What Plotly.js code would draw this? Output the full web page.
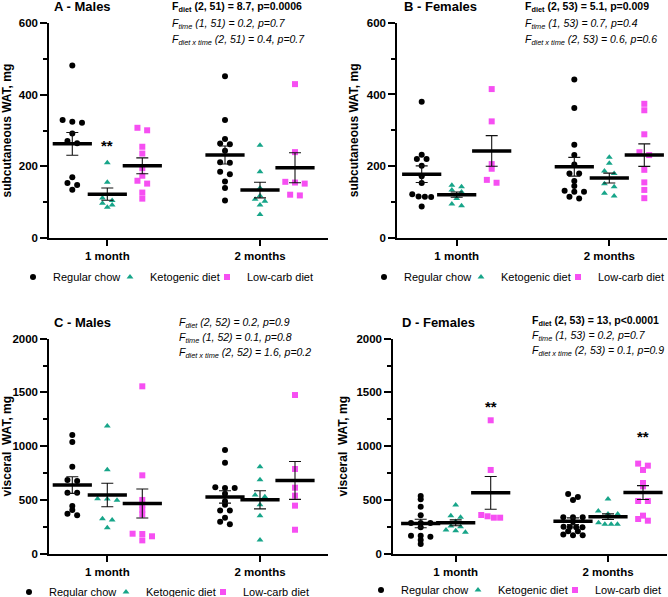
<!DOCTYPE html>
<html><head><meta charset="utf-8">
<script src="https://cdn.plot.ly/plotly-3.0.1.min.js"></script>
<style>html,body{margin:0;padding:0;background:#fff}#chart{width:668px;height:597px}</style>
</head><body><div id="chart"></div><script>
const W = 668, H = 597;
const timepoints = ['1 month', '2 months'];
const diets = ['Regular chow', 'Ketogenic diet', 'Low-carb diet'];
const dietColors = ['#000000', '#17a589', '#f64ff2'];
const dietSymbols = ['circle', 'triangle-up', 'square'];

// A - Males, subcutaneous WAT (mg)
const aChow1m = [482, 330, 325, 322, 292, 271, 265, 170, 154, 148, 135];
const aKeto1m = [210, 156, 112, 105, 97, 92, 86];
const aLowc1m = [308, 301, 255, 236, 195, 174, 160, 152, 127, 110];
const aChow2m = [452, 330, 277, 264, 262, 244, 212, 210, 185, 178, 158, 140, 105];
const aKeto2m = [259, 185, 140, 118, 108, 103, 92, 66];
const aLowc2m = [430, 240, 157, 155, 152, 121, 119];

// B - Females, subcutaneous WAT (mg)
const bChow1m = [380, 232, 220, 220, 201, 172, 153, 122, 116, 115, 114, 88];
const bKeto1m = [147, 143, 134, 128, 120, 110, 95, 90];
const bLowc1m = [415, 325, 206, 193, 162, 154];
const bChow2m = [442, 362, 260, 231, 205, 180, 180, 159, 145, 132, 129, 129, 115, 110];
const bKeto2m = [225, 208, 187, 180, 151, 143, 125, 117];
const bLowc2m = [374, 356, 289, 239, 231, 190, 155, 134, 111];

// C - Males, visceral WAT (mg)
const cChow1m = [1104, 1039, 809, 686, 676, 567, 567, 443, 406, 372, 357];
const cKeto1m = [1188, 782, 512, 509, 497, 326, 313, 242];
const cLowc1m = [1557, 729, 500, 455, 410, 365, 186, 183, 162, 124];
const cChow2m = [965, 847, 617, 611, 611, 558, 487, 456, 403, 403, 335, 298, 273];
const cKeto2m = [809, 689, 546, 530, 455, 354, 127];
const cLowc2m = [1476, 788, 614, 540, 447, 223];

// D - Females, visceral WAT (mg)
const dChow1m = [537, 506, 437, 357, 285, 285, 285, 245, 168, 168, 158, 127, 90];
const dKeto1m = [453, 354, 338, 300, 258, 251, 220, 214, 199];
const dLowc1m = [1241, 779, 360, 348, 335, 335];
const dChow2m = [555, 528, 500, 338, 338, 338, 300, 251, 248, 245, 245, 210, 210, 178, 172, 172];
const dKeto2m = [509, 397, 369, 369, 344, 289, 273, 273, 273];
const dLowc2m = [838, 819, 779, 658, 627, 490, 490, 354, 323, 307];

// Statistics text
const statsA = ['<b>F<sub>diet</sub> (2, 51) = 8.7, p=0.0006</b>', '<i>F<sub>time</sub> (1, 51) = 0.2, p=0.7</i>', '<i>F<sub>diet x time</sub> (2, 51) = 0.4, p=0.7</i>'];
const statsB = ['<b>F<sub>diet</sub> (2, 53) = 5.1, p=0.009</b>', '<i>F<sub>time</sub> (1, 53) = 0.7, p=0.4</i>', '<i>F<sub>diet x time</sub> (2, 53) = 0.6, p=0.6</i>'];
const statsC = ['<i>F<sub>diet</sub> (2, 52) = 0.2, p=0.9</i>', '<i>F<sub>time</sub> (1, 52) = 0.1, p=0.8</i>', '<i>F<sub>diet x time</sub> (2, 52) = 1.6, p=0.2</i>'];
const statsD = ['<b>F<sub>diet</sub> (2, 53) = 13, p&lt;0.0001</b>', '<i>F<sub>time</sub> (1, 53) = 0.2, p=0.7</i>', '<i>F<sub>diet x time</sub> (2, 53) = 0.1, p=0.9</i>'];

const FONT = 'Liberation Sans, Arial, sans-serif';

const panels = [
  {title: 'A - Males', ytitle: 'subcutaneous WAT, mg', data: [[aChow1m, aKeto1m, aLowc1m], [aChow2m, aKeto2m, aLowc2m]],
   yr: [0, 600], dtick: 200, minor: 100, box: {l: 49.3, r: 328, t: 23.3, b: 238}, c: [107.3, 260],
   stats: statsA, statsX: 170, statsY: [7, 24, 40], titleXY: [51.7, 6.7],
   stars: [{t: 0, d: 1, y: 267}], legXY: [13, 277]},
  {title: 'B - Females', ytitle: 'subcutaneous WAT, mg', data: [[bChow1m, bKeto1m, bLowc1m], [bChow2m, bKeto2m, bLowc2m]],
   yr: [0, 600], dtick: 200, minor: 100, box: {l: 397.3, r: 667, t: 22.7, b: 238}, c: [456.7, 609.3],
   stats: statsB, statsX: 523, statsY: [7, 24, 40], titleXY: [401.7, 6.7],
   stars: [], legXY: [364, 277]},
  {title: 'C - Males', ytitle: 'visceral\u00a0 WAT, mg', data: [[cChow1m, cKeto1m, cLowc1m], [cChow2m, cKeto2m, cLowc2m]],
   yr: [0, 2000], dtick: 500, minor: 250, box: {l: 49.3, r: 328, t: 338.7, b: 553.7}, c: [107.3, 260],
   stats: statsC, statsX: 176.7, statsY: [323, 338, 353], titleXY: [51.7, 322.7],
   stars: [], legXY: [9, 592]},
  {title: 'D - Females', ytitle: 'visceral\u00a0 WAT, mg', data: [[dChow1m, dKeto1m, dLowc1m], [dChow2m, dKeto2m, dLowc2m]],
   yr: [0, 2000], dtick: 500, minor: 250, box: {l: 393.3, r: 667, t: 338.7, b: 553.7}, c: [455.7, 608],
   stats: statsD, statsX: 530, statsY: [321, 336, 351], titleXY: [399.7, 322.7],
   stars: [{t: 0, d: 2, y: 1400}, {t: 1, d: 2, y: 1116}], legXY: [361, 590]}
];

const legendWidths = [52, 52, 80];

function swarm(values, center, yPerPx, xPerPx) {
  const idx = values.map((v, i) => i).sort((a, b) => values[b] - values[a]);
  const thr = 3.2 * yPerPx;
  const clusters = [];
  let cur = null;
  idx.forEach(i => {
    if (cur && cur.length < 4 && values[cur[0]] - values[i] <= thr) cur.push(i);
    else { cur = [i]; clusters.push(cur); }
  });
  const xs = new Array(values.length);
  clusters.forEach(cl => {
    const n = cl.length;
    const d = (n >= 4 ? 6.3 : 9.7) * xPerPx;
    cl.forEach((i, k) => { xs[i] = center + (k - (n - 1) / 2) * d; });
  });
  return xs;
}
function mean(a) { return a.reduce((s, v) => s + v, 0) / a.length; }
function sem(a) { const m = mean(a); const v = a.reduce((s, x) => s + (x - m) * (x - m), 0) / (a.length - 1); return Math.sqrt(v / a.length); }

const traces = [];
const layout = {
  width: W, height: H, margin: {l: 0, r: 0, t: 0, b: 0, autoexpand: false},
  paper_bgcolor: '#fff', plot_bgcolor: '#fff', showlegend: true,
  font: {family: FONT, color: '#000', size: 12},
  annotations: []
};

panels.forEach((p, pi) => {
  const sfx = pi === 0 ? '' : String(pi + 1);
  const xa = 'x' + sfx, ya = 'y' + sfx;
  const legName = pi === 0 ? 'legend' : 'legend' + (pi + 1);
  const pxPerX = p.c[1] - p.c[0];
  const xPerPx = 1 / pxPerX;
  const yPerPx = (p.yr[1] - p.yr[0]) / (p.box.b - p.box.t);
  const dietOff = 35 * xPerPx;

  diets.forEach((dn, di) => {
    let xs = [], ys = [];
    timepoints.forEach((tp, ti) => {
      const vals = p.data[ti][di];
      const center = (ti + 1) + (di - 1) * dietOff;
      xs = xs.concat(swarm(vals, center, yPerPx, xPerPx));
      ys = ys.concat(vals);
    });
    traces.push({
      type: 'scatter', mode: 'markers', name: dn, x: xs, y: ys, xaxis: xa, yaxis: ya,
      legend: legName, legendwidth: legendWidths[di], cliponaxis: false,
      marker: {symbol: dietSymbols[di], color: dietColors[di], size: 6, line: {width: 0}},
      hoverinfo: 'y'
    });
  });
  const mx = [], my = [], me = [];
  timepoints.forEach((tp, ti) => diets.forEach((dn, di) => {
    const vals = p.data[ti][di];
    mx.push((ti + 1) + (di - 1) * dietOff);
    my.push(mean(vals));
    me.push(sem(vals));
  }));
  traces.push({
    type: 'scatter', mode: 'markers', x: mx, y: my, xaxis: xa, yaxis: ya, showlegend: false, cliponaxis: false,
    marker: {symbol: 'line-ew', size: 28, color: '#000', line: {width: 3.5, color: '#000'}},
    error_y: {type: 'data', array: me, visible: true, color: '#111', thickness: 1.1, width: 6},
    hoverinfo: 'y'
  });

  const xr = [1 - (p.c[0] - p.box.l) / pxPerX, 2 + (p.box.r - p.c[1]) / pxPerX];
  layout['xaxis' + sfx] = {
    domain: [p.box.l / W, p.box.r / W], range: xr, anchor: ya,
    tickvals: [1, 2], ticktext: timepoints, ticks: 'outside', ticklen: 6, tickwidth: 2, tickcolor: '#000',
    showline: true, linecolor: '#000', linewidth: 2, showgrid: false, zeroline: false,
    tickfont: {family: FONT, size: 11.5, weight: 'bold', color: '#000'}, fixedrange: true, automargin: false
  };
  layout['yaxis' + sfx] = {
    domain: [(H - p.box.b) / H, (H - p.box.t) / H], range: p.yr, anchor: xa,
    dtick: p.dtick, tick0: 0, ticks: 'outside', ticklen: 7, tickwidth: 2, tickcolor: '#000',
    minor: {dtick: p.minor, tick0: 0, ticks: 'outside', ticklen: 4, tickwidth: 2, tickcolor: '#000', showgrid: false},
    showline: true, linecolor: '#000', linewidth: 2, showgrid: false, zeroline: false,
    tickfont: {family: FONT, size: 11.5, weight: 'bold', color: '#000'},
    title: {text: p.ytitle, font: {family: FONT, size: 12, weight: 'bold', color: '#000'}, standoff: 6},
    automargin: false, fixedrange: true
  };
  layout[legName] = {
    orientation: 'h', x: p.legXY[0] / W, y: (H - p.legXY[1]) / H, xanchor: 'left', yanchor: 'middle',
    xref: 'paper', yref: 'paper', entrywidthmode: 'pixels',
    font: {family: FONT, size: 11, color: '#000'}, bgcolor: 'rgba(0,0,0,0)', borderwidth: 0,
    itemclick: false, itemdoubleclick: false
  };
  layout.annotations.push({
    text: p.title, xref: 'paper', yref: 'paper', x: p.titleXY[0] / W, y: (H - p.titleXY[1]) / H,
    xanchor: 'left', yanchor: 'middle', showarrow: false,
    font: {family: FONT, size: 13, weight: 'bold', color: '#000'}
  });
  p.stats.forEach((s, si) => {
    layout.annotations.push({
      text: s, xref: 'paper', yref: 'paper', x: p.statsX / W, y: (H - p.statsY[si]) / H,
      xanchor: 'left', yanchor: 'middle', showarrow: false, align: 'left',
      font: {family: FONT, size: 10.5, color: '#000'}
    });
  });
  p.stars.forEach(st => {
    layout.annotations.push({
      text: '<b>**</b>', xref: xa, yref: ya, x: (st.t + 1) + (st.d - 1) * dietOff, y: st.y,
      xanchor: 'center', yanchor: 'middle', showarrow: false, yshift: -3,
      font: {family: FONT, size: 15, color: '#000'}
    });
  });
});

Plotly.newPlot('chart', traces, layout, {displayModeBar: false, staticPlot: true});
</script></body></html>
